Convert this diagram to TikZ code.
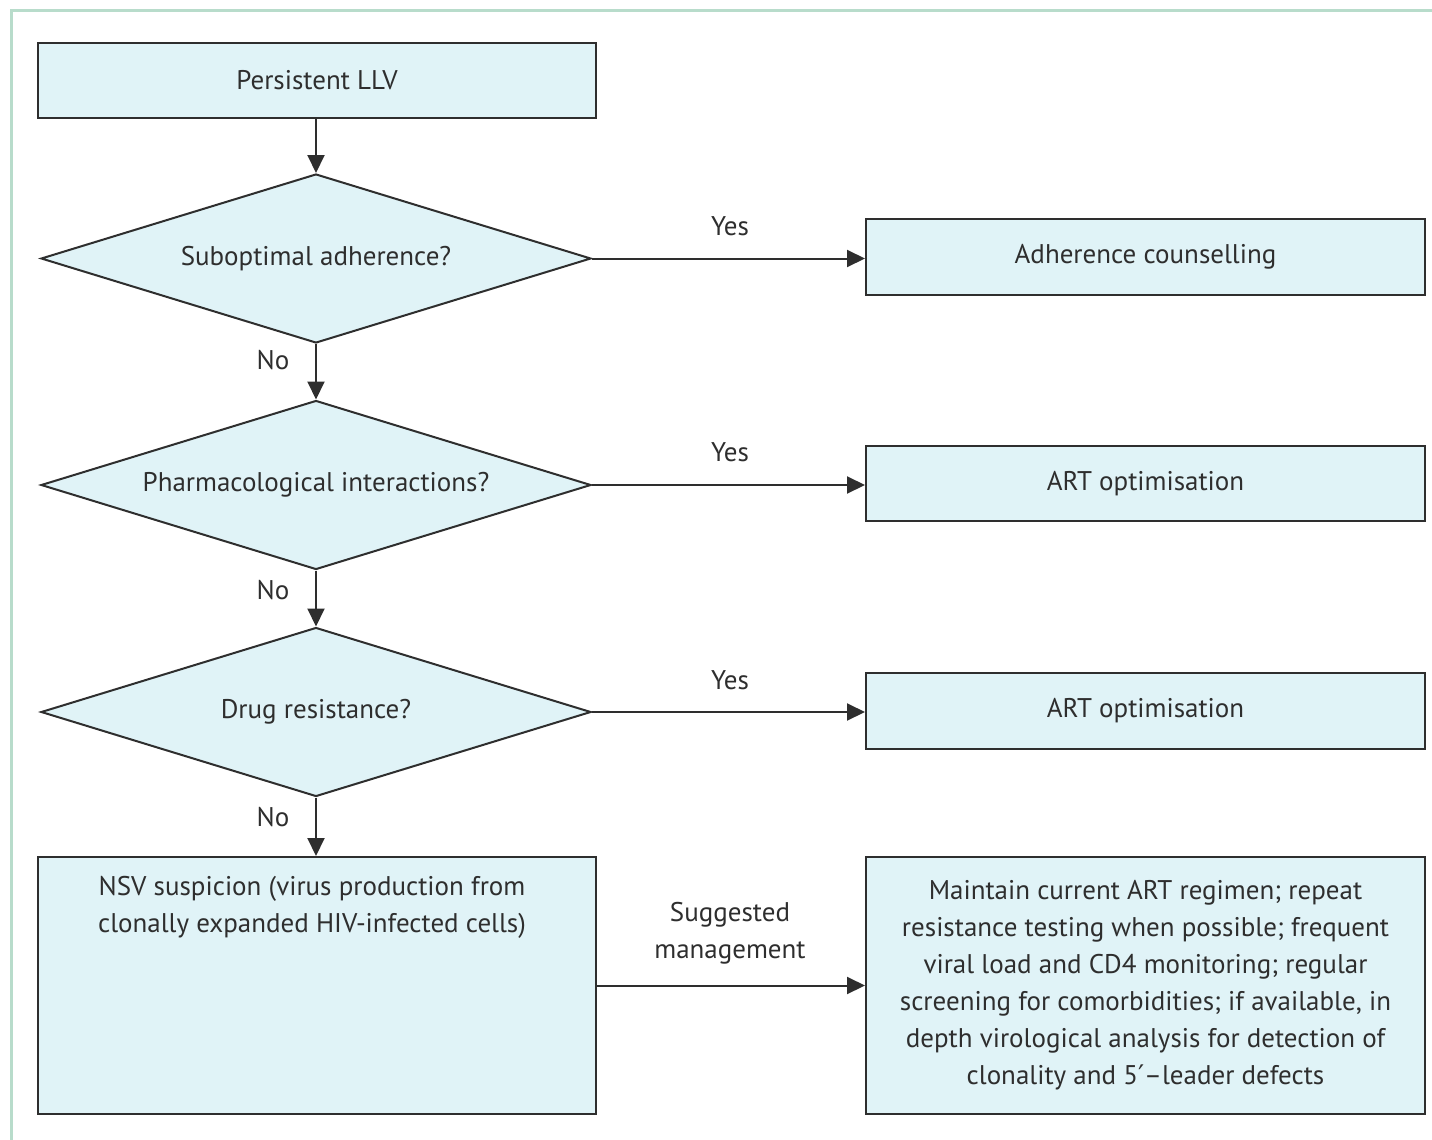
\documentclass[tikz,border=0pt]{standalone}
\usepackage{fontspec}
\setmainfont{PT Sans}
\newfontfamily\symfont{DejaVu Sans}
\usetikzlibrary{shapes.geometric,arrows.meta}
\definecolor{boxfill}{HTML}{E0F3F7}
\definecolor{frame}{HTML}{B8DCCB}
\definecolor{ink}{HTML}{2E2E2E}
\begin{document}
\begin{tikzpicture}[x=1pt,y=-1pt,
  every node/.style={font=\fontsize{27}{37}\selectfont, text=ink},
  box/.style={draw=ink, line width=2pt, fill=boxfill, rectangle, inner sep=0pt, align=center},
  dec/.style={draw=ink, line width=2pt, fill=boxfill, diamond, aspect=3.25, inner sep=0pt, minimum width=550pt, minimum height=169pt},
  conn/.style={draw=ink, line width=2pt, -{Triangle[length=18pt,width=17pt]}},
  lbl/.style={inner sep=0pt}
]
\useasboundingbox (0,0) rectangle (1432,1140);
\draw[frame, line width=3pt] (11,1140) -- (11,11) -- (1432,11);

\node[box, minimum width=558pt, minimum height=75pt] (llv) at (317,80.5) {Persistent LLV};
\node[dec] (d1) at (316,258.5) {Suboptimal adherence?};
\node[dec] (d2) at (316,485) {Pharmacological interactions?};
\node[dec] (d3) at (316,712) {Drug resistance?};
\node[box, minimum width=559pt, minimum height=76pt] (r1) at (1145.5,257) {Adherence counselling};
\node[box, minimum width=559pt, minimum height=75pt] (r2) at (1145.5,483.5) {ART optimisation};
\node[box, minimum width=559pt, minimum height=76pt] (r3) at (1145.5,711) {ART optimisation};
\node[box, minimum width=558pt, minimum height=257pt] (nsv) at (317,985.5) {};
\node[lbl, align=center, anchor=north] (nsvtext) at (312,876) {NSV suspicion (virus production from\\clonally expanded HIV-infected cells)};
\node[box, minimum width=559pt, minimum height=257pt] (mgmt) at (1145.5,985.5) {Maintain current ART regimen; repeat\\resistance testing when possible; frequent\\viral load and CD4 monitoring; regular\\screening for comorbidities; if available, in\\depth virological analysis for detection of\\clonality and 5{\symfont ′}–leader defects};

\draw[conn] (llv.south -| d1.north) -- (d1.north);
\draw[conn] (d1.south) -- (d2.north);
\draw[conn] (d2.south) -- (d3.north);
\draw[conn] (d3.south) -- (d3.south |- nsv.north);
\draw[conn] (d1.east) -- (d1.east -| r1.west);
\draw[conn] (d2.east) -- (d2.east -| r2.west);
\draw[conn] (d3.east) -- (d3.east -| r3.west);
\draw[conn] (nsv.east) -- (mgmt.west);

\node[lbl] (y1) at (730,226) {Yes};
\node[lbl] (y2) at (730,452) {Yes};
\node[lbl] (y3) at (730,680) {Yes};
\node[lbl] (n1) at (273,360) {No};
\node[lbl] (n2) at (273,590) {No};
\node[lbl] (n3) at (273,817) {No};
\node[lbl, align=center] (sm) at (730,933) {Suggested\\management};
\end{tikzpicture}
\end{document}
